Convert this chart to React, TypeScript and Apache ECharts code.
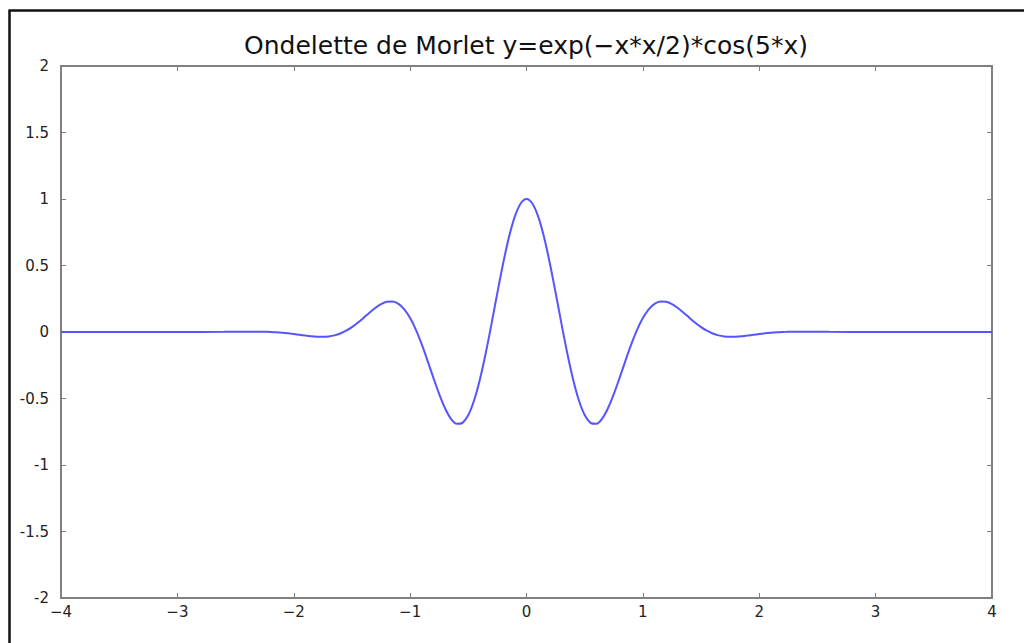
import React, { useEffect, useRef } from "react";
import * as echarts from "echarts";

const titleText = "Ondelette de Morlet y=exp(−x*x/2)*cos(5*x)";

const xTickLabels: Record<string, string> = {
  "-4": "−4", "-3": "−3", "-2": "−2", "-1": "−1", "0": "0", "1": "1", "2": "2", "3": "3", "4": "4",
};

const yTickLabels: Record<string, string> = {
  "2": "2", "1.5": "1.5", "1": "1", "0.5": "0.5", "0": "0",
  "-0.5": "-0.5", "-1": "-1", "-1.5": "-1.5", "-2": "-2",
};

const xs = [
  -4, -3.5, -3, -2.6, -2.55, -2.5, -2.45, -2.4, -2.35, -2.3, -2.25, -2.2, -2.15, -2.1, -2.05,
  -2.0, -1.95, -1.9, -1.85, -1.8, -1.75, -1.7, -1.65, -1.6, -1.55, -1.5, -1.45, -1.4, -1.35,
  -1.3, -1.25, -1.2, -1.15, -1.1, -1.05, -1.0, -0.95, -0.9, -0.85, -0.8, -0.75, -0.7, -0.65,
  -0.6, -0.55, -0.5, -0.45, -0.4, -0.35, -0.3, -0.25, -0.2, -0.15, -0.1, -0.05,
  0,
  0.05, 0.1, 0.15, 0.2, 0.25, 0.3, 0.35, 0.4, 0.45, 0.5, 0.55, 0.6, 0.65, 0.7, 0.75, 0.8,
  0.85, 0.9, 0.95, 1.0, 1.05, 1.1, 1.15, 1.2, 1.25, 1.3, 1.35, 1.4, 1.45, 1.5, 1.55, 1.6,
  1.65, 1.7, 1.75, 1.8, 1.85, 1.9, 1.95, 2.0, 2.05, 2.1, 2.15, 2.2, 2.25, 2.3, 2.35, 2.4,
  2.45, 2.5, 2.55, 2.6, 3, 3.5, 4,
];

const ys = [
  0, 0, 0, 0.0011, 0.0015, 0.0019, 0.0024, 0.0027, 0.0028, 0.0025, 0.0017, 0.0, -0.0025, -0.0058, -0.0101,
  -0.0154, -0.0211, -0.027, -0.0321, -0.0357, -0.0365, -0.0335, -0.0255, -0.0112, 0.0098, 0.0365, 0.0692, 0.1062, 0.1449,
  0.1802, 0.2095, 0.2275, 0.2295, 0.2113, 0.17, 0.1044, 0.0153, -0.0938, -0.2166, -0.3447, -0.4675, -0.5737, -0.6516,
  -0.6907, -0.683, -0.6239, -0.513, -0.3546, -0.1577, 0.0647, 0.2962, 0.5191, 0.7154, 0.8689, 0.9665,
  1,
  0.9665, 0.8689, 0.7154, 0.5191, 0.2962, 0.0647, -0.1577, -0.3546, -0.513, -0.6239, -0.683, -0.6907, -0.6516, -0.5737, -0.4675, -0.3447,
  -0.2166, -0.0938, 0.0153, 0.1044, 0.17, 0.2113, 0.2295, 0.2275, 0.2095, 0.1802, 0.1449, 0.1062, 0.0692, 0.0365, 0.0098, -0.0112,
  -0.0255, -0.0335, -0.0365, -0.0357, -0.0321, -0.027, -0.0211, -0.0154, -0.0101, -0.0058, -0.0025, 0.0, 0.0017, 0.0025, 0.0028, 0.0027,
  0.0024, 0.0019, 0.0015, 0.0011, 0, 0, 0,
];

const FONT = "DejaVu Sans";
const AXIS_COLOR = "#808080";
const LABEL_COLOR = "#222222";

export default function App() {
  const ref = useRef<HTMLDivElement>(null);

  useEffect(() => {
    if (!ref.current) return;
    const chart = echarts.init(ref.current, undefined, { renderer: "svg" });

    const axisCommon = {
      axisLine: { show: true, onZero: false, lineStyle: { color: AXIS_COLOR, width: 2 } },
      axisTick: { show: true, inside: true, length: 5, lineStyle: { color: AXIS_COLOR, width: 1 } },
      splitLine: { show: false },
    };

    chart.setOption({
      animation: false,
      backgroundColor: "#ffffff",
      grid: { left: 61, right: 32, top: 66, bottom: 45, containLabel: false },
      xAxis: [
        {
          type: "value",
          min: -4,
          max: 4,
          interval: 1,
          position: "bottom",
          ...axisCommon,
          axisLabel: {
            margin: 6,
            color: LABEL_COLOR,
            fontFamily: FONT,
            fontSize: 15,
            formatter: (v: number) => xTickLabels[String(v)] ?? String(v),
          },
        },
        {
          type: "value",
          min: -4,
          max: 4,
          interval: 1,
          position: "top",
          ...axisCommon,
          axisLabel: { show: false },
        },
      ],
      yAxis: [
        {
          type: "value",
          min: -2,
          max: 2,
          interval: 0.5,
          position: "left",
          ...axisCommon,
          axisLabel: {
            margin: 12,
            color: LABEL_COLOR,
            fontFamily: FONT,
            fontSize: 15,
            formatter: (v: number) => yTickLabels[String(v)] ?? String(v),
          },
        },
        {
          type: "value",
          min: -2,
          max: 2,
          interval: 0.5,
          position: "right",
          ...axisCommon,
          axisLabel: { show: false },
        },
      ],
      graphic: [
        {
          type: "text",
          x: 526,
          y: 45,
          style: {
            text: titleText,
            font: `25px "${FONT}"`,
            fill: "#111111",
            textAlign: "center",
            textVerticalAlign: "middle",
          },
        },
        {
          type: "line",
          shape: { x1: 9.5, y1: 10.5, x2: 9.5, y2: 643 },
          style: { stroke: "#111111", lineWidth: 2.5 },
        },
        {
          type: "line",
          shape: { x1: 8.5, y1: 10.5, x2: 1024, y2: 10.5 },
          style: { stroke: "#111111", lineWidth: 2.5 },
        },
      ],
      series: [
        {
          type: "line",
          xAxisIndex: 0,
          yAxisIndex: 0,
          data: xs.map((x, i) => [x, ys[i]]),
          smooth: 0.3,
          showSymbol: false,
          lineStyle: { color: "#5555ff", width: 2 },
        },
      ],
    });

    return () => chart.dispose();
  }, []);

  return (
    <div
      ref={ref}
      style={{ position: "fixed", left: 0, top: 0, width: 1024, height: 643 }}
    />
  );
}
